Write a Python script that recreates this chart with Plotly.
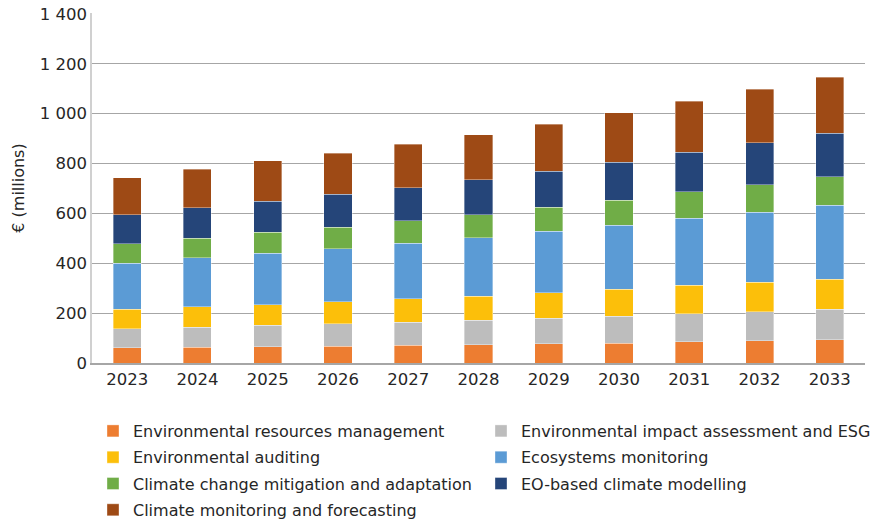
import plotly.graph_objects as go

years = ["2023", "2024", "2025", "2026", "2027", "2028", "2029", "2030", "2031", "2032", "2033"]

env_resources_mgmt = [62, 63, 66, 68, 71, 74, 78, 80, 86, 90, 94]
env_impact_esg = [76, 80, 85, 89, 92, 97, 101, 107, 112, 116, 122]
env_auditing = [78, 83, 83, 88, 94, 97, 102, 109, 113, 117, 120]
ecosystems_monitoring = [184, 197, 206, 214, 224, 235, 248, 257, 270, 282, 296]
climate_mitigation = [79, 78, 85, 86, 89, 91, 95, 100, 106, 111, 115]
eo_climate_modelling = [115, 121, 123, 131, 134, 142, 146, 152, 159, 168, 175]
climate_monitoring = [150, 156, 163, 166, 174, 180, 187, 198, 204, 214, 225]

series = [
    ("Environmental resources management", env_resources_mgmt, "#ED7D31", "legend"),
    ("Environmental impact assessment and ESG", env_impact_esg, "#BDBDBD", "legend2"),
    ("Environmental auditing", env_auditing, "#FCBF0A", "legend"),
    ("Ecosystems monitoring", ecosystems_monitoring, "#5B9BD5", "legend2"),
    ("Climate change mitigation and adaptation", climate_mitigation, "#70AD47", "legend"),
    ("EO-based climate modelling", eo_climate_modelling, "#254579", "legend2"),
    ("Climate monitoring and forecasting", climate_monitoring, "#9E4A15", "legend"),
]

y_tickvals = [0, 200, 400, 600, 800, 1000, 1200, 1400]
y_ticktext = ["0", "200", "400", "600", "800", "1 000", "1 200", "1 400"]

fig = go.Figure()
for i, (name, vals, color, leg) in enumerate(series):
    fig.add_trace(go.Bar(
        x=years, y=vals, name=name, legend=leg, legendgroup=f"g{i}",
        marker=dict(color=color, line=dict(color="rgba(255,255,255,0.6)", width=0.6)),
    ))

W, H = 883, 521
ML, MR, MT, MB = 92, 18, 13, 158
PW, PH = W - ML - MR, H - MT - MB


def px_to_paper_x(px):
    return (px - ML) / PW


def px_to_paper_y(py):
    return (H - MB - py) / PH


font_family = "'DejaVu Sans', sans-serif"
text_color = "#262626"
leg_common = dict(
    orientation="v", xref="paper", yref="paper",
    xanchor="left", yanchor="top", font=dict(size=16, color=text_color),
    tracegroupgap=2.5, bgcolor="rgba(0,0,0,0)", traceorder="grouped",
)
fig.update_layout(
    barmode="stack",
    bargap=0.6,
    width=W, height=H,
    margin=dict(l=ML, r=MR, t=MT, b=MB, autoexpand=False),
    plot_bgcolor="white", paper_bgcolor="white",
    font=dict(family=font_family, size=16, color=text_color),
    showlegend=True,
    legend=dict(x=px_to_paper_x(93), y=px_to_paper_y(414), **leg_common),
    legend2=dict(x=px_to_paper_x(481), y=px_to_paper_y(414), **leg_common),
    xaxis=dict(
        showline=True, linecolor="#A6A6A6", linewidth=1.5,
        ticks="", tickfont=dict(size=16.5),
    ),
    yaxis=dict(
        range=[0, 1404], tickvals=y_tickvals, ticktext=y_ticktext,
        showgrid=True, gridcolor="#A6A6A6", gridwidth=1,
        showline=True, linecolor="#D0D0D0", linewidth=1.5,
        zeroline=False, ticks="", ticklabeloverflow="allow",
        title=dict(text="€ (millions)", font=dict(size=16), standoff=11),
        tickfont=dict(size=16.5),
    ),
)

fig.write_html("out.html", post_script="document.body.style.margin='0';",
               config={"displayModeBar": False})
